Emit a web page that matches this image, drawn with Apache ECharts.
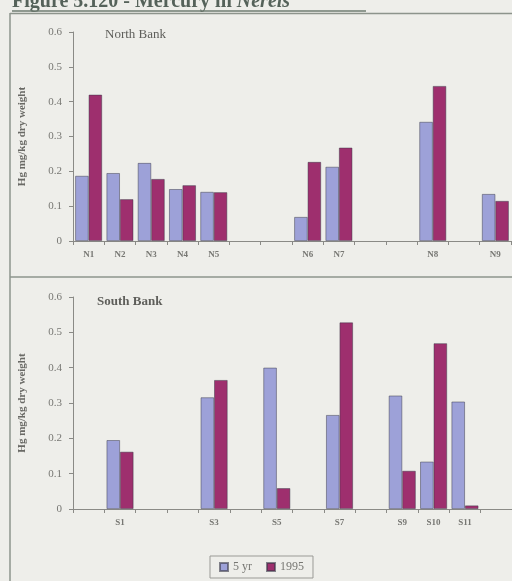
<!DOCTYPE html>
<html>
<head>
<meta charset="utf-8">
<script src="https://cdn.jsdelivr.net/npm/echarts@6/dist/echarts.min.js"></script>
<style>
  html, body { margin: 0; padding: 0; background: #eeeeea; }
  #chart { width: 512px; height: 581px; }
</style>
</head>
<body>
<div id="chart"></div>
<script>
// Sampling stations along each bank; blank slots keep the spacing between sites
const northStations = ['N1', 'N2', 'N3', 'N4', 'N5', '', '', 'N6', 'N7', '', '', 'N8', '', 'N9'];
const northFiveYr   = [0.187, 0.195, 0.224, 0.149, 0.141, '-', '-', 0.069, 0.213, '-', '-', 0.342, '-', 0.135];
const north1995     = [0.420, 0.120, 0.178, 0.160, 0.140, '-', '-', 0.227, 0.268, '-', '-', 0.445, '-', 0.115];

const southStations = ['', 'S1', '', '', 'S3', '', 'S5', '', 'S7', '', 'S9', 'S10', 'S11', ''];
const southFiveYr   = ['-', 0.195, '-', '-', 0.316, '-', 0.400, '-', 0.266, '-', 0.321, 0.134, 0.304, '-'];
const south1995     = ['-', 0.162, '-', '-', 0.365, '-', 0.059, '-', 0.528, '-', 0.108, 0.469, 0.010, '-'];

const yTicks = { min: 0, max: 0.6, interval: 0.1 };
const seriesNames = ['5 yr', '1995'];
const colors = ['#9da1d8', '#9e2f6e'];

const serif = '"Liberation Serif", "DejaVu Serif", serif';
const axisGray = '#8a8a86';
const textGray = '#777773';

const chart = echarts.init(document.getElementById('chart'), null, { renderer: 'canvas' });

function xAxisFor(idx, cats) {
  return {
    type: 'category', gridIndex: idx, data: cats,
    axisLine: { lineStyle: { color: axisGray, width: 1 } },
    axisTick: { show: true, alignWithLabel: false, length: 4, lineStyle: { color: axisGray } },
    axisLabel: { color: textGray, fontFamily: serif, fontSize: 9, fontWeight: 'bold', margin: 9, interval: 0 }
  };
}
function yAxisFor(idx) {
  return {
    type: 'value', gridIndex: idx, min: yTicks.min, max: yTicks.max, interval: yTicks.interval,
    name: 'Hg mg/kg dry weight', nameLocation: 'middle', nameGap: 45, nameRotate: 90,
    nameTextStyle: { color: '#6a6a66', fontFamily: serif, fontSize: 11, fontWeight: 'bold' },
    axisLine: { show: true, lineStyle: { color: axisGray, width: 1 } },
    axisTick: { show: true, length: 4, lineStyle: { color: axisGray } },
    splitLine: { show: false },
    axisLabel: { color: textGray, fontFamily: serif, fontSize: 11, margin: 11,
                 formatter: v => (v === 0 ? '0' : v.toFixed(1)) }
  };
}
function barSeries(name, color, xi, data) {
  return {
    name, type: 'bar', xAxisIndex: xi, yAxisIndex: xi, data,
    barGap: '0%', barCategoryGap: '14%',
    itemStyle: { color, borderColor: 'rgba(55,55,70,0.6)', borderWidth: 0.8 }
  };
}

chart.setOption({
  backgroundColor: '#eeeeea',
  animation: false,
  grid: [
    { left: 73, top: 32, width: 438, height: 209 },
    { left: 73, top: 297, width: 441, height: 212 }
  ],
  xAxis: [xAxisFor(0, northStations), xAxisFor(1, southStations)],
  yAxis: [yAxisFor(0), yAxisFor(1)],
  legend: {
    data: seriesNames, left: 210, top: 556,
    itemWidth: 8, itemHeight: 8, itemGap: 14,
    padding: [5, 9], borderColor: '#9a9a96', borderWidth: 1,
    icon: 'rect',
    textStyle: { color: textGray, fontFamily: serif, fontSize: 12 }
  },
  series: [
    barSeries(seriesNames[0], colors[0], 0, northFiveYr),
    barSeries(seriesNames[1], colors[1], 0, north1995),
    barSeries(seriesNames[0], colors[0], 1, southFiveYr),
    barSeries(seriesNames[1], colors[1], 1, south1995)
  ],
  graphic: [
    // figure heading
    { type: 'text', left: 12, top: -8,
      style: { text: '{b|Figure 5.120 - Mercury in }{i|Nereis}',
               rich: {
                 b: { fontFamily: serif, fontSize: 20, fontWeight: 'bold', fill: '#55625a' },
                 i: { fontFamily: serif, fontSize: 20, fontWeight: 'bold', fontStyle: 'italic', fill: '#55625a' }
               } } },
    { type: 'line', shape: { x1: 12, y1: 11, x2: 366, y2: 11 }, style: { stroke: '#6f7d72', lineWidth: 1.5 } },
    // panel frame
    { type: 'line', shape: { x1: 10, y1: 13.5, x2: 512, y2: 13.5 }, style: { stroke: '#8d948c', lineWidth: 1.5 } },
    { type: 'line', shape: { x1: 10, y1: 13, x2: 10, y2: 581 }, style: { stroke: '#8d948c', lineWidth: 1.5 } },
    { type: 'line', shape: { x1: 10, y1: 277, x2: 512, y2: 277 }, style: { stroke: '#8d948c', lineWidth: 1.5 } },
    // panel labels
    { type: 'text', left: 105, top: 28,
      style: { text: 'North Bank', fontFamily: serif, fontSize: 13, fill: '#5e5e5a' } },
    { type: 'text', left: 97, top: 295,
      style: { text: 'South Bank', fontFamily: serif, fontSize: 13, fontWeight: 'bold', fill: '#5e5e5a' } }
  ]
});
</script>
</body>
</html>
